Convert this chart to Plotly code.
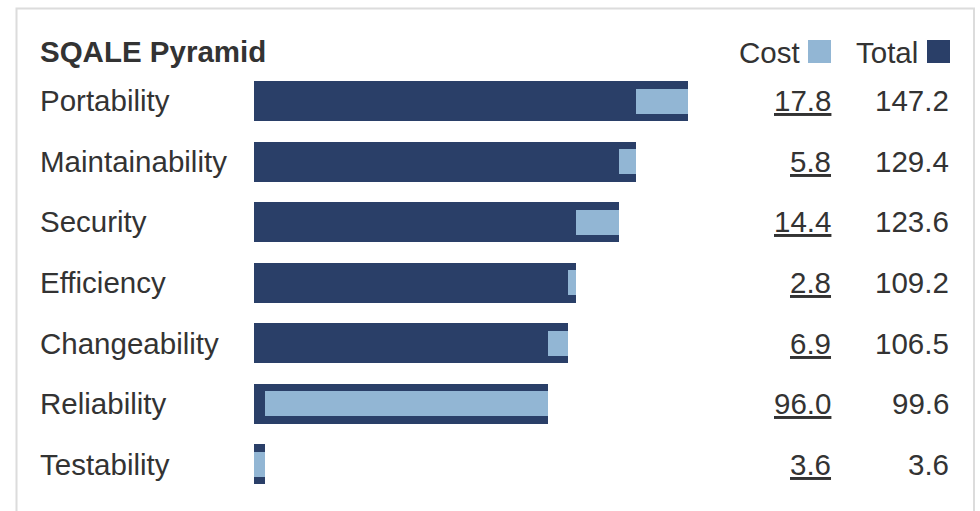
import plotly.graph_objects as go

categories = ["Portability", "Maintainability", "Security", "Efficiency",
              "Changeability", "Reliability", "Testability"]
total = [147.2, 129.4, 123.6, 109.2, 106.5, 99.6, 3.6]
cost = [17.8, 5.8, 14.4, 2.8, 6.9, 96.0, 3.6]

W, H = 980, 511
DARK = "#2a3f68"
LIGHT = "#92b6d4"
TXT = "#333333"
FONT = "Liberation Sans, Arial, Helvetica, sans-serif"
FS = 29.5

base_cost = [t - c for t, c in zip(total, cost)]

fig = go.Figure()
fig.add_trace(go.Bar(y=categories, x=total, orientation="h", width=0.66,
                     marker=dict(color=DARK, line=dict(width=0)), name="Total",
                     hoverinfo="x+y"))
fig.add_trace(go.Bar(y=categories, x=cost, base=base_cost, orientation="h", width=0.41,
                     marker=dict(color=LIGHT, line=dict(width=0)), name="Cost",
                     hoverinfo="x+y"))

x0_px, scale = 254, 2.95
xmax = 150
y_top, y_bot = 70.75, 494.25

fig.update_layout(
    width=W, height=H, margin=dict(l=0, r=0, t=0, b=0),
    paper_bgcolor="white", plot_bgcolor="white",
    barmode="overlay", showlegend=False, bargap=0,
    font=dict(family=FONT, color=TXT, size=FS),
    xaxis=dict(range=[0, xmax], domain=[x0_px / W, (x0_px + xmax * scale) / W],
               visible=False, fixedrange=True),
    yaxis=dict(categoryorder="array", categoryarray=categories,
               range=[len(categories) - 0.5, -0.5],
               domain=[(H - y_bot) / H, (H - y_top) / H],
               visible=False, fixedrange=True),
)

ann = []
ann.append(dict(text="<b>SQALE Pyramid</b>", x=38 / W, y=1 - 51 / H, xref="paper", yref="paper",
                xanchor="left", yanchor="middle", showarrow=False,
                font=dict(size=29.5, color=TXT, family=FONT)))
ann.append(dict(text="Cost", x=802 / W, y=1 - 52 / H, xref="paper", yref="paper",
                xanchor="right", yanchor="middle", showarrow=False,
                font=dict(size=FS, color=TXT, family=FONT)))
ann.append(dict(text="Total", x=920 / W, y=1 - 52 / H, xref="paper", yref="paper",
                xanchor="right", yanchor="middle", showarrow=False,
                font=dict(size=FS, color=TXT, family=FONT)))
for cat, c, t in zip(categories, cost, total):
    ann.append(dict(text=cat, x=38 / W, y=cat, xref="paper", yref="y",
                    xanchor="left", yanchor="middle", showarrow=False,
                    font=dict(size=FS, color=TXT, family=FONT)))
    ann.append(dict(text=f"<u>{c:.1f}</u>", x=833 / W, y=cat, xref="paper", yref="y",
                    xanchor="right", yanchor="middle", showarrow=False,
                    font=dict(size=FS, color=TXT, family=FONT)))
    ann.append(dict(text=f"{t:.1f}", x=951 / W, y=cat, xref="paper", yref="y",
                    xanchor="right", yanchor="middle", showarrow=False,
                    font=dict(size=FS, color=TXT, family=FONT)))
fig.update_layout(annotations=ann)

shapes = [
    dict(type="rect", xref="paper", yref="paper", x0=16.5 / W, x1=974 / W,
         y0=-0.05, y1=1 - 8.5 / H, line=dict(color="#dcdcdc", width=2), fillcolor="rgba(0,0,0,0)"),
    dict(type="rect", xref="paper", yref="paper", x0=808 / W, x1=831 / W,
         y0=1 - 63 / H, y1=1 - 40 / H, line=dict(width=0), fillcolor=LIGHT),
    dict(type="rect", xref="paper", yref="paper", x0=927 / W, x1=950 / W,
         y0=1 - 63 / H, y1=1 - 40 / H, line=dict(width=0), fillcolor=DARK),
]
fig.update_layout(shapes=shapes)

fig.write_html("out.html", config={"displayModeBar": False})
